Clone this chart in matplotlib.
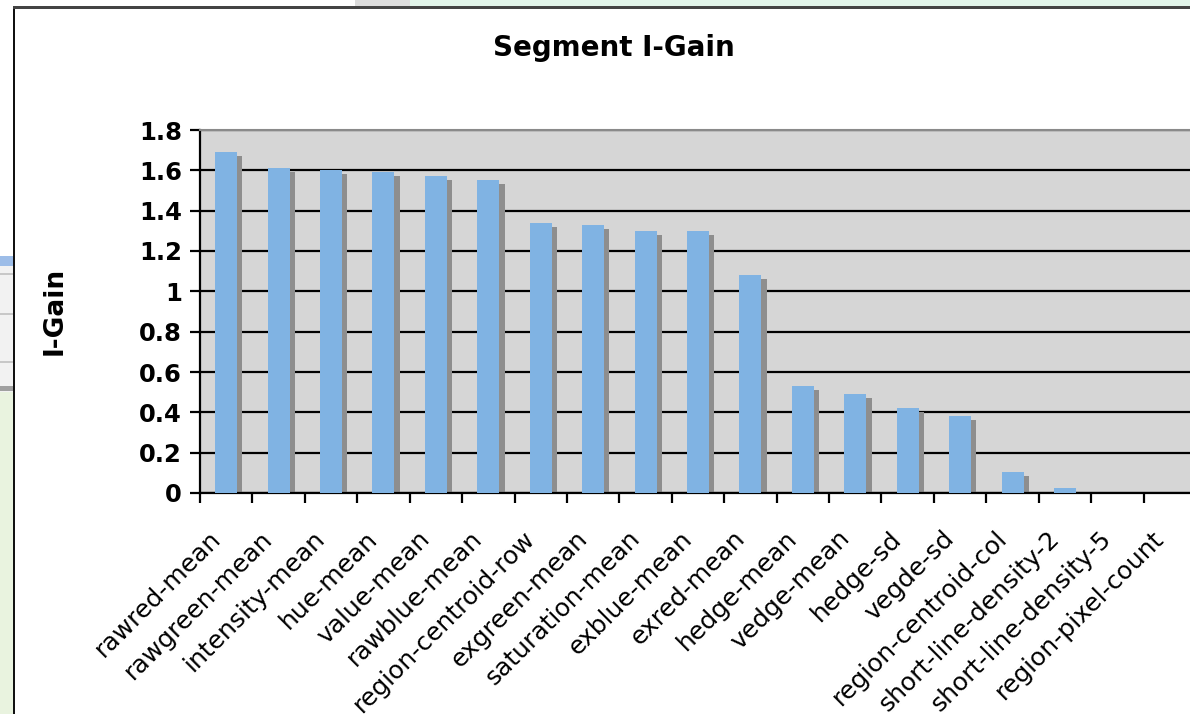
import matplotlib
matplotlib.use("Agg")
from matplotlib import pyplot as plt
from matplotlib.patches import Rectangle
from matplotlib.transforms import ScaledTranslation
import numpy as np

features = ["rawred-mean", "rawgreen-mean", "intensity-mean", "hue-mean", "value-mean",
            "rawblue-mean", "region-centroid-row", "exgreen-mean", "saturation-mean",
            "exblue-mean", "exred-mean", "hedge-mean", "vedge-mean", "hedge-sd", "vegde-sd",
            "region-centroid-col", "short-line-density-2", "short-line-density-5",
            "region-pixel-count"]
igain = [1.69, 1.61, 1.60, 1.59, 1.57, 1.55, 1.34, 1.33, 1.30, 1.30, 1.08,
         0.53, 0.49, 0.42, 0.38, 0.105, 0.026, 0.0, 0.0]
yticks = [0, 0.2, 0.4, 0.6, 0.8, 1, 1.2, 1.4, 1.6, 1.8]
ytick_labels = ["0", "0.2", "0.4", "0.6", "0.8", "1", "1.2", "1.4", "1.6", "1.8"]

W, H = 1190, 714
fig = plt.figure(figsize=(W / 100, H / 100), dpi=100)
fig.patch.set_facecolor("white")

def px(x, y, w, h):
    # pixel box (top-left origin) -> figure fraction
    return (x / W, 1 - (y + h) / H, w / W, h / H)

# bits of the screen behind the chart window
for (x, y, w, h, c) in [(410, 0, 780, 7, "#e2f5ea"), (355, 0, 55, 7, "#dcdcdc"),
                        (0, 392, 13, 322, "#e9f3df"), (0, 256, 13, 10, "#9dbde8"),
                        (0, 266, 13, 126, "#f2f2f2"), (0, 273, 13, 2, "#c8c8c8"),
                        (0, 313, 13, 2, "#c8c8c8"), (0, 361, 13, 2, "#c8c8c8"),
                        (0, 386, 13, 5, "#a0a0a0")]:
    fx, fy, fw, fh = px(x, y, w, h)
    fig.add_artist(Rectangle((fx, fy), fw, fh, transform=fig.transFigure,
                             facecolor=c, edgecolor="none", zorder=0))
fx, fy, fw, fh = px(13, 6, 2, 708)
fig.add_artist(Rectangle((fx, fy), fw, fh, transform=fig.transFigure, facecolor="#111111",
                         edgecolor="none", zorder=1))
fx, fy, fw, fh = px(13, 6, 1177, 3)
fig.add_artist(Rectangle((fx, fy), fw, fh, transform=fig.transFigure, facecolor="#444444",
                         edgecolor="none", zorder=1))

ax = fig.add_axes([200 / W, 1 - 493 / H, 996 / W, 363 / H])
ax.set_facecolor("#d6d6d6")
x = np.arange(len(features))
shadow = np.clip(np.array(igain) - 0.02, 0, None)
ax.bar(x + 0.1, shadow, width=0.42, color="#8e8e8e", zorder=2)
ax.bar(x, igain, width=0.42, color="#80b3e3", zorder=3)

ax.set_xlim(-0.5, len(features) - 0.5)
ax.set_ylim(0, 1.8)
ax.set_yticks(yticks)
ax.set_yticklabels(ytick_labels, fontsize=17.5, fontweight="bold")
ax.yaxis.grid(True, color="black", linewidth=1.6)
ax.set_axisbelow(True)
ax.tick_params(axis="y", length=7, width=1.6, pad=6)

ax.set_xticks(x)
ax.set_xticklabels(features, rotation=45, ha="right", rotation_mode="anchor", fontsize=18)
ax.set_xticks(np.arange(len(features) + 1) - 0.5, minor=True)
ax.tick_params(axis="x", which="major", length=0, pad=24)
ax.tick_params(axis="x", which="minor", length=7, width=1.6)
for lbl in ax.get_xticklabels():
    lbl.set_transform(lbl.get_transform() + ScaledTranslation(-13 / 72, 0, fig.dpi_scale_trans))

for s in ["left", "bottom"]:
    ax.spines[s].set_linewidth(1.6)
    ax.spines[s].set_color("black")
ax.spines["top"].set_color("#8a8a8a")
ax.spines["top"].set_linewidth(1.5)
ax.spines["right"].set_visible(False)

fig.text(55 / W, 1 - 311 / H, "I-Gain", fontsize=19, fontweight="bold",
         rotation=90, ha="center", va="center")
fig.text(614 / W, 1 - 48 / H, "Segment I-Gain", fontsize=20, fontweight="bold",
         ha="center", va="center")

fig.savefig("out.png", dpi=100)
